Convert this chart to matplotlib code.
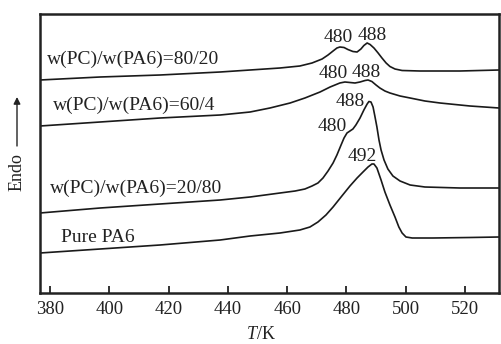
import matplotlib
matplotlib.use("Agg")
import matplotlib.pyplot as plt

plt.rcParams["font.family"] = ["Liberation Serif", "DejaVu Serif"]
plt.rcParams["mathtext.fontset"] = "custom"
plt.rcParams["mathtext.rm"] = "Liberation Serif"
plt.rcParams["mathtext.it"] = "Liberation Serif:italic"

# DSC traces (T in K, heat flow in arbitrary units, offset per curve)
t_8020 = [376.6, 396.9, 417.1, 437.4, 447.5, 457.6, 464.3, 468.4, 471.8, 473.8,
          475.5, 476.8, 477.8, 479.2, 480.5, 482.2, 483.6, 484.9, 485.9, 487.0,
          488.0, 489.3, 490.7, 492.0, 493.4, 494.7, 496.4, 498.8, 504.8, 518.3,
          531.5]
y_8020 = [220, 223, 225, 228, 230, 232, 234, 237, 241, 245,
          249, 252, 253, 252.5, 250.5, 248.5, 248, 251, 254.5, 257,
          255.5, 252, 247, 242, 237, 233.5, 231, 229.5, 229, 229,
          230]

t_604 = [376.6, 396.9, 417.1, 437.4, 447.5, 454.2, 461.0, 466.0, 471.1, 474.5,
         477.8, 479.5, 481.2, 482.9, 484.6, 486.3, 487.3, 488.6, 490.0, 491.3,
         493.0, 494.7, 498.1, 501.5, 506.5, 511.6, 521.7, 531.5]
y_604 = [174, 178, 182, 185, 188, 192, 197, 202, 208, 213,
         217, 218, 217.5, 217, 218, 219.5, 220, 218.5, 215, 212,
         209, 207, 204, 202, 199, 197, 194, 192]

t_2080 = [376.6, 396.9, 417.1, 437.4, 447.5, 457.6, 462.7, 466.0, 468.4, 470.4,
          472.1, 473.8, 475.5, 476.8, 478.2, 479.2, 480.2, 481.2, 482.2, 483.2,
          484.6, 485.9, 487.0, 487.6, 488.3, 489.0, 489.6, 490.3, 491.0, 491.7,
          492.7, 494.0, 495.7, 498.1, 501.5, 506.5, 518.3, 531.5]
y_2080 = [87, 92, 96, 100, 103, 107, 109, 111, 114, 117,
          122, 129, 137, 145, 155, 162, 167, 169, 171, 175,
          182, 190, 196, 198.5, 198, 193, 184, 173, 160, 150,
          140, 131, 124, 119, 115, 113, 112, 112]

t_pa6 = [376.6, 396.9, 417.1, 437.4, 447.5, 457.6, 464.3, 467.7, 470.4, 473.1,
         475.5, 478.2, 481.2, 483.6, 485.6, 487.3, 488.6, 489.3, 490.3, 491.7,
         493.0, 494.7, 496.4, 497.7, 498.8, 500.1, 502.2, 509.2, 521.7, 531.5]
y_pa6 = [47, 51, 55, 60, 64, 67, 70, 73, 78, 85,
         93, 103, 114, 122, 128, 133, 136, 136, 132, 120,
         108, 95, 83, 73, 67, 63, 62, 62, 62.5, 63]

labels = ["w(PC)/w(PA6)=80/20", "w(PC)/w(PA6)=60/4",
          "w(PC)/w(PA6)=20/80", "Pure PA6"]
label_pos = [(379.0, 236), (381.0, 190), (380.0, 107), (383.7, 58)]

peak_text = ["480", "488", "480", "488", "488", "480", "492"]
peak_pos = [(477.2, 258), (488.6, 260), (475.5, 222), (486.6, 223),
            (481.2, 194), (475.1, 169), (485.3, 139)]

xticks = [380, 400, 420, 440, 460, 480, 500, 520]

fig = plt.figure(figsize=(5.01, 3.44), dpi=100)
ax = fig.add_axes([40 / 501, 1 - 293 / 344, 459 / 501, 279 / 344])

for t, y in [(t_8020, y_8020), (t_604, y_604), (t_2080, y_2080), (t_pa6, y_pa6)]:
    ax.plot(t, y, color="#1a1a1a", lw=1.2)

for s, (x, y) in zip(labels, label_pos):
    ax.text(x, y, s, fontsize=14, ha="left", va="baseline", color="#222222")
for s, (x, y) in zip(peak_text, peak_pos):
    ax.text(x, y, s, fontsize=14, ha="center", va="baseline", color="#222222")

ax.set_xlim(376.6, 531.5)
ax.set_ylim(7, 286)
ax.set_xticks(xticks)
ax.set_yticks([])
ax.tick_params(axis="x", direction="in", length=5, width=1.3, pad=6,
               labelsize=13.5, colors="#222222")
for sp in ax.spines.values():
    sp.set_linewidth(1.8)
    sp.set_color("#222222")

fig.text(261 / 501, 5 / 344, "$T$/K", fontsize=13, ha="center", va="baseline",
         color="#222222")
fig.text(17 / 501, 1 - 172 / 344, "Endo", fontsize=13, rotation=90,
         ha="center", va="center", color="#222222")
ax.annotate("", xy=(17 / 501, 1 - 97 / 344), xytext=(17 / 501, 1 - 146 / 344),
            xycoords="figure fraction", textcoords="figure fraction",
            arrowprops=dict(arrowstyle="-|>", color="#222222", lw=1.0,
                            mutation_scale=10, shrinkA=0, shrinkB=0))

fig.savefig("out.png", dpi=100)
